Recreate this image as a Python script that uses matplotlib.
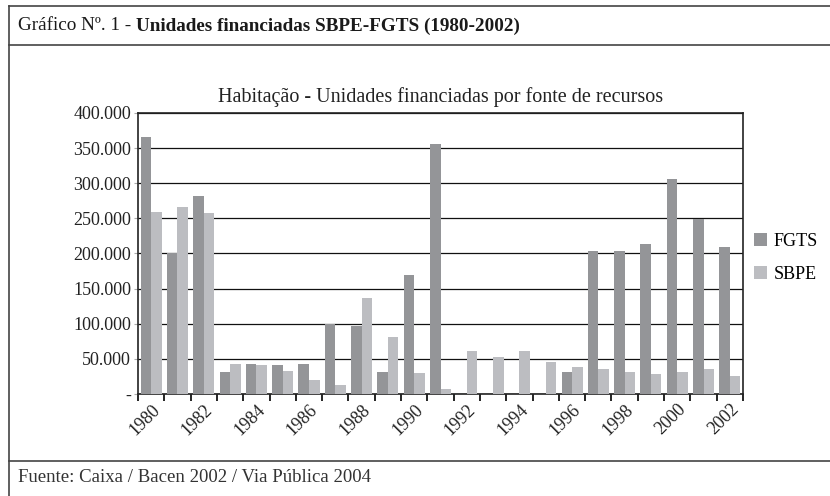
import numpy as np
import matplotlib
matplotlib.use("Agg")
import matplotlib.pyplot as plt
from matplotlib.lines import Line2D
from matplotlib.ticker import FuncFormatter, FixedLocator

# datos (unidades financiadas)
years = list(range(1980, 2003))
fgts = [366000, 200000, 282000, 31000, 43000, 41000, 43000, 100000, 97000, 31000,
        170000, 356000, 0, 0, 0, 0, 31000, 204000, 204000, 214000,
        306000, 249000, 209000]
sbpe = [259000, 266000, 258000, 43000, 41000, 33000, 20000, 13000, 137000, 81000,
        30000, 7000, 61000, 53000, 61000, 46000, 38000, 36000, 31000, 29000,
        31000, 36000, 26000]
yticks = [0, 50000, 100000, 150000, 200000, 250000, 300000, 350000, 400000]

plt.rcParams['font.family'] = ['Liberation Serif', 'DejaVu Serif']

W, H = 830, 496
fig = plt.figure(figsize=(W / 100, H / 100), dpi=100)

def fx(px):
    return px / W

def fy(py):
    return 1 - py / H

# marco del cuadro
frame_color = '#444444'
for xs, ys in [((9, W), (6, 6)), ((9, 9), (6, H)), ((9, W), (45, 45)), ((9, W), (461, 461))]:
    fig.add_artist(Line2D([fx(xs[0]), fx(xs[1])], [fy(ys[0]), fy(ys[1])],
                          transform=fig.transFigure, color=frame_color, lw=1.2))

t1 = fig.text(fx(18), fy(26), "Gráfico Nº. 1 - ", fontsize=13.8, va='center', ha='left',
              color='#1a1a1a')
renderer = fig.canvas.get_renderer()
bb = t1.get_window_extent(renderer)
fig.text(bb.x1 / W, fy(26), "Unidades financiadas SBPE-FGTS (1980-2002)",
         fontsize=13.8, fontweight='bold', va='center', ha='left', color='#1a1a1a')
fig.text(fx(18), fy(478), "Fuente: Caixa / Bacen 2002 / Via Pública 2004",
         fontsize=13.5, va='center', ha='left', color='#333333')

ax = fig.add_axes([fx(138), fy(394), fx(743) - fx(138), fy(113) - fy(394)])

x = np.arange(len(years))
ax.bar(x - 0.2, fgts, 0.4, color='#949598', label='FGTS', zorder=3)
ax.bar(x + 0.2, sbpe, 0.4, color='#bcbdc1', label='SBPE', zorder=3)

ax.set_xlim(-0.5, len(years) - 0.5)
ax.set_ylim(0, 400000)
ax.set_yticks(yticks)
ax.yaxis.set_major_formatter(FuncFormatter(
    lambda v, p: '-' if v == 0 else f"{int(v):,}".replace(',', '.')))
ax.yaxis.grid(True, color='#111111', linewidth=0.9, zorder=0)
ax.set_axisbelow(True)

ax.set_xticks(x[::2])
ax.set_xticklabels([str(y) for y in years[::2]], rotation=45, ha='right',
                   rotation_mode='anchor')
ax.xaxis.set_minor_locator(FixedLocator(np.arange(-0.5, len(years), 1)))
ax.tick_params(axis='x', which='major', length=0, labelsize=13, pad=5, labelcolor='#222222')
ax.tick_params(axis='x', which='minor', length=5, width=1.2, direction='out')
ax.tick_params(axis='y', length=3, labelsize=13, pad=2, color='#aaaaaa', labelcolor='#222222')

for s in ax.spines.values():
    s.set_color('#222222')
    s.set_linewidth(1.2)

ax.set_title("Habitação - Unidades financiadas por fonte de recursos", fontsize=14.5,
             pad=8, color='#222222')

ax.legend(loc='center left', bbox_to_anchor=(1.0, 0.485), frameon=False,
          fontsize=13, handlelength=0.75, handleheight=0.75, handletextpad=0.35,
          labelspacing=0.9, borderaxespad=0.2)

plt.savefig("out.png", dpi=100)
plt.close()
